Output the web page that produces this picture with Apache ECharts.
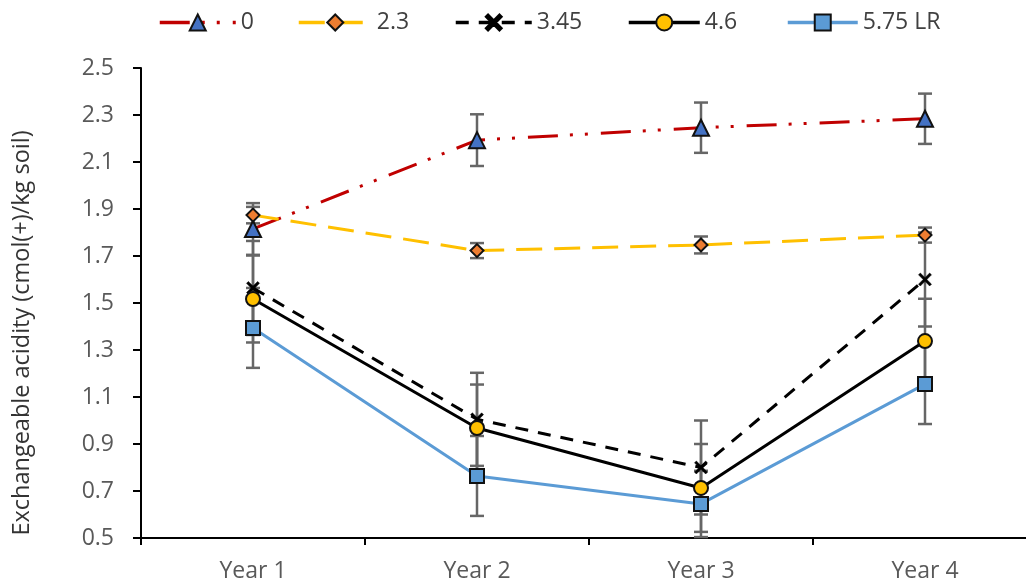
<!DOCTYPE html>
<html>
<head>
<meta charset="utf-8">
<script src="https://cdn.jsdelivr.net/npm/echarts@6/dist/echarts.min.js"></script>
<style>
html,body{margin:0;padding:0;background:#fff;}
#chart{width:1026px;height:581px;}
</style>
</head>
<body>
<div id="chart"></div>
<script>
// ---- data ----
const categories = ['Year 1', 'Year 2', 'Year 3', 'Year 4'];
const seriesNames = ['0', '2.3', '3.45', '4.6', '5.75 LR'];
const values0   = [1.815, 2.193, 2.246, 2.284];
const values23  = [1.874, 1.723, 1.747, 1.789];
const values345 = [1.564, 1.005, 0.800, 1.600];
const values46  = [1.517, 0.968, 0.713, 1.338];
const values575 = [1.394, 0.764, 0.645, 1.155];
const err0   = [0.110, 0.110, 0.107, 0.107];
const err23  = [0.035, 0.032, 0.036, 0.032];
const err345 = [0.200, 0.198, 0.200, 0.200];
const err46  = [0.185, 0.185, 0.187, 0.180];
const err575 = [0.170, 0.170, 0.141, 0.170];
const yTicks = [0.5, 0.7, 0.9, 1.1, 1.3, 1.5, 1.7, 1.9, 2.1, 2.3, 2.5];
const yTitle = 'Exchangeable acidity (cmol(+)/kg soil)';

const FONT = "'Open Sans', 'Noto Sans', sans-serif";
const allValues = [values0, values23, values345, values46, values575];
const allErrs = [err0, err23, err345, err46, err575];

const errData = [];
allValues.forEach((vals, s) => {
  vals.forEach((v, i) => errData.push([i, v, allErrs[s][i]]));
});

const xPath = 'path://M0,2L2,0L7,5L12,0L14,2L9,7L14,12L12,14L7,9L2,14L0,12L5,7Z';

const lineDefs = [
  {name: seriesNames[0], data: values0, color: '#C00000', type: [30, 12, 3, 12, 3, 13], symbol: 'triangle', size: 16, fill: '#4472C4'},
  {name: seriesNames[1], data: values23, color: '#FFC000', type: [26, 12], symbol: 'diamond', size: 13, fill: '#ED7D31'},
  {name: seriesNames[2], data: values345, color: '#000000', type: [13, 10], symbol: xPath, size: 13, fill: '#000000'},
  {name: seriesNames[3], data: values46, color: '#000000', type: 'solid', symbol: 'circle', size: 14, fill: '#FFC000'},
  {name: seriesNames[4], data: values575, color: '#5B9BD5', type: 'solid', symbol: 'rect', size: 14, fill: '#5B9BD5'}
];

// legend placement (one legend block per series)
const legendLeft = [153, 292, 449, 622, 781];
const legendWidth = [76, 73, 76, 71, 70];

const chart = echarts.init(document.getElementById('chart'), null, {renderer: 'canvas'});

const series = [{
  type: 'custom',
  name: 'err',
  z: 1,
  silent: true,
  data: errData,
  encode: {x: 0, y: 1},
  renderItem: function (params, api) {
    const x = api.value(0), v = api.value(1), e = api.value(2);
    const top = api.coord([x, v + e]);
    const bot = api.coord([x, v - e]);
    const cap = 7;
    const st = {stroke: '#666666', lineWidth: 2.5};
    return {
      type: 'group',
      children: [
        {type: 'line', shape: {x1: top[0], y1: top[1], x2: bot[0], y2: bot[1]}, style: st},
        {type: 'line', shape: {x1: top[0] - cap, y1: top[1], x2: top[0] + cap, y2: top[1]}, style: st},
        {type: 'line', shape: {x1: bot[0] - cap, y1: bot[1], x2: bot[0] + cap, y2: bot[1]}, style: st}
      ]
    };
  }
}];

lineDefs.forEach((d, idx) => {
  series.push({
    type: 'line',
    name: d.name,
    data: d.data,
    z: 2 + idx,
    symbol: d.symbol,
    symbolSize: d.size,
    showAllSymbol: true,
    lineStyle: {color: d.color, width: 3, type: d.type},
    itemStyle: {color: d.fill, borderColor: d.symbol === xPath ? '#000' : '#111', borderWidth: d.symbol === xPath ? 0.5 : 2},
    emphasis: {disabled: true},
    animation: false
  });
});

const legends = seriesNames.map((n, i) => ({
  data: [n],
  left: legendLeft[i],
  top: 6,
  itemWidth: legendWidth[i],
  itemHeight: 20,
  selectedMode: false,
  lineStyle: {width: 3.5},
  textStyle: {fontFamily: FONT, fontSize: 23, color: '#404040'}
}));

chart.setOption({
  animation: false,
  backgroundColor: '#ffffff',
  legend: legends,
  grid: {left: 141, top: 68, width: 896, height: 470, containLabel: false, outerBoundsMode: 'none'},
  xAxis: {
    type: 'category',
    data: categories,
    boundaryGap: true,
    axisLine: {lineStyle: {color: '#000', width: 2}},
    axisTick: {show: true, length: 7, lineStyle: {color: '#000', width: 2}},
    axisLabel: {fontFamily: FONT, fontSize: 23, color: '#595959', margin: 22}
  },
  yAxis: {
    type: 'value',
    min: 0.5,
    max: 2.5,
    interval: 0.2,
    splitLine: {show: false},
    axisLine: {show: true, lineStyle: {color: '#000', width: 2}},
    axisTick: {show: true, length: 8, lineStyle: {color: '#000', width: 2}},
    axisLabel: {
      fontFamily: FONT, fontSize: 23, color: '#595959', margin: 27,
      customValues: yTicks,
      formatter: v => v.toFixed(1)
    }
  },
  graphic: [{
    type: 'text',
    x: 22,
    y: 333,
    rotation: Math.PI / 2,
    style: {
      text: yTitle,
      font: "23.5px 'Open Sans', 'Noto Sans', sans-serif",
      fill: '#333333',
      align: 'center',
      verticalAlign: 'middle'
    }
  }],
  series: series
});
</script>
</body>
</html>
